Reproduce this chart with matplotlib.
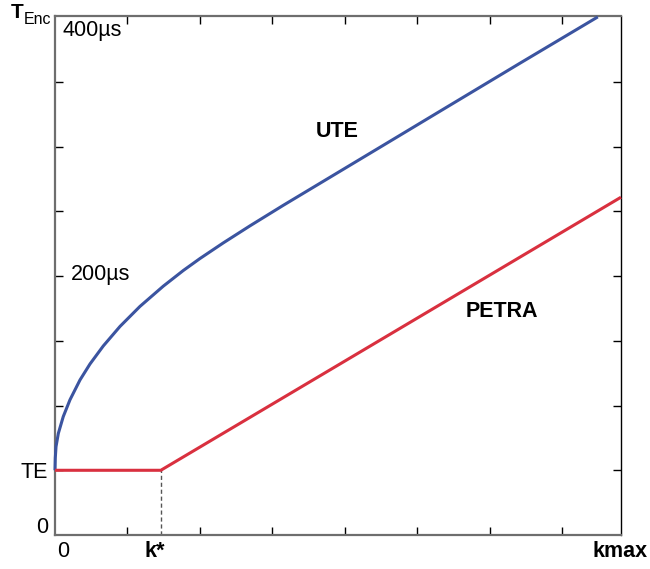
import matplotlib
matplotlib.use('Agg')
import matplotlib.pyplot as plt

plt.rcParams['font.family'] = ['Liberation Sans', 'DejaVu Sans']

# UTE curve (x in k units, y in 50us units)
ute_k = [0.0, 0.004, 0.014, 0.046, 0.114, 0.207, 0.345, 0.483, 0.666, 0.897,
         1.172, 1.494, 1.770, 2.0, 2.321, 2.690, 3.149, 3.655, 4.207, 4.759,
         5.310, 6.414, 7.490]
ute_t = [1.0, 1.19, 1.365, 1.57, 1.83, 2.09, 2.396, 2.643, 2.921, 3.223,
         3.532, 3.845, 4.087, 4.272, 4.513, 4.777, 5.094, 5.434, 5.805, 6.176,
         6.547, 7.289, 8.006]

# PETRA: flat at TE up to k*, then linear
k_star = 1.46
petra_k = [0.0, k_star, 7.81]
petra_t = [1.0, 1.0, 5.22]

ticks = [1, 2, 3, 4, 5, 6, 7]

fig = plt.figure(figsize=(6.5, 5.69), dpi=100)
ax = fig.add_axes([55/650, 1 - 535/569, (621 - 55)/650, (535 - 16)/569])

ax.plot(ute_k, ute_t, color='#3b54a0', lw=2.2, solid_capstyle='butt',
        solid_joinstyle='round', clip_on=False, zorder=3)
ax.plot(petra_k, petra_t, color='#d9303f', lw=2.2, solid_capstyle='butt', clip_on=False, zorder=3)
ax.plot([k_star, k_star], [0, 1], color='#555555', lw=1.0, ls=(0, (3, 2)), zorder=2)

ax.set_xlim(0, 7.81)
ax.set_ylim(0, 8.02)
ax.set_xticks(ticks)
ax.set_yticks(ticks)
ax.tick_params(direction='in', length=6, width=1.0, color='black',
               top=True, right=True, labelbottom=False, labelleft=False)

for s in ['left', 'bottom', 'top']:
    ax.spines[s].set_color('#6e6e6e')
    ax.spines[s].set_linewidth(1.6)
ax.spines['right'].set_color('black')
ax.spines['right'].set_linewidth(1.0)

fs = 15.5
ax.text(0.097, 7.79, '400µs', fontsize=fs, ha='left', va='center')
ax.text(0.22, 4.02, '200µs', fontsize=fs, ha='left', va='center')
ax.text(-0.097, 0.97, 'TE', fontsize=fs, ha='right', va='center', clip_on=False)
ax.text(-0.097, 0.11, '0', fontsize=fs, ha='right', va='center', clip_on=False)
ax.text(0.11, -0.26, '0', fontsize=fs, ha='center', va='center', clip_on=False)
ax.text(1.38, -0.26, 'k*', fontsize=fs, fontweight='bold', ha='center', va='center', clip_on=False)
ax.text(8.18, -0.25, 'kmax', fontsize=fs, fontweight='bold', ha='right', va='center', clip_on=False)
ax.text(3.90, 6.24, 'UTE', fontsize=fs, fontweight='bold', ha='center', va='center')
ax.text(6.17, 3.45, 'PETRA', fontsize=fs, fontweight='bold', ha='center', va='center')

fig.text(11/650, 1 - 18/569, 'T', fontsize=15, fontweight='bold', ha='left', va='baseline')
fig.text(24/650, 1 - 24/569, 'Enc', fontsize=11.5, ha='left', va='baseline')

fig.savefig('out.png', dpi=100)
